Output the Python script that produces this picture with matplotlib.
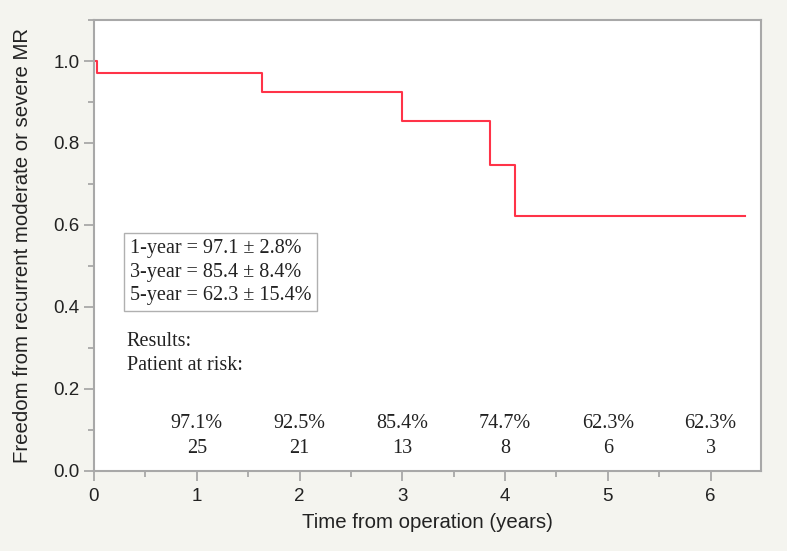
import matplotlib.pyplot as plt
from matplotlib.ticker import MultipleLocator

# Kaplan-Meier steps (time in years, survival after the step)
times = [0.0, 0.03, 1.63, 3.0, 3.85, 4.10, 6.33]
surv = [1.0, 0.971, 0.925, 0.854, 0.747, 0.623, 0.623]

years = [1, 2, 3, 4, 5, 6]
results = ["97.1%", "92.5%", "85.4%", "74.7%", "62.3%", "62.3%"]
at_risk = ["25", "21", "13", "8", "6", "3"]

summary = ["1-year = 97.1 ± 2.8%", "3-year = 85.4 ± 8.4%", "5-year = 62.3 ± 15.4%"]

bg = "#f4f4ef"
grey = "#a8a8a8"
serif = "Liberation Serif"

plt.rcParams["font.family"] = "Liberation Sans"

fig = plt.figure(figsize=(7.87, 5.51), dpi=100, facecolor=bg)
ax = fig.add_axes([0.1194, 0.1452, 0.8476, 0.8185])
ax.set_facecolor("white")

ax.step(times, surv, where="post", color="#ff3348", lw=1.5)

ax.set_xlim(0, 6.49)
ax.set_ylim(0, 1.1)
ax.set_xticks(range(0, 7))
ax.set_yticks([0.0, 0.2, 0.4, 0.6, 0.8, 1.0])
ax.set_yticklabels(["0.0", "0.2", "0.4", "0.6", "0.8", "1.0"])
ax.xaxis.set_minor_locator(MultipleLocator(0.5))
ax.yaxis.set_minor_locator(MultipleLocator(0.1))

for s in ax.spines.values():
    s.set_color(grey)
    s.set_linewidth(1.5)
ax.tick_params(which="major", length=7, width=1.3, color=grey, labelsize=13.5, labelcolor="#222222")
ax.tick_params(axis="x", which="major", pad=5)
ax.tick_params(which="minor", length=4, width=1.3, color=grey)

ax.set_xlabel("Time from operation (years)", fontsize=14.7, color="#222222", labelpad=6)
ax.set_ylabel("Freedom from recurrent moderate or severe MR", fontsize=14.7, color="#222222", labelpad=15)

# summary box
ax.text(0.35, 0.485, "\n".join(summary), family=serif, fontsize=14.5, linespacing=1.3,
        va="center", ha="left", color="#222222",
        bbox=dict(boxstyle="square,pad=0.3", fc="white", ec="#b0b0b0", lw=1))

ax.text(0.32, 0.315, "Results:", family=serif, fontsize=14.5, va="center", color="#222222")
ax.text(0.32, 0.257, "Patient at risk:", family=serif, fontsize=14.5, va="center", color="#222222")

for x, r, n in zip(years, results, at_risk):
    ax.text(x, 0.115, r, family=serif, fontsize=14.5, ha="center", va="center", color="#222222")
    ax.text(x, 0.056, n, family=serif, fontsize=14.5, ha="center", va="center", color="#222222")

fig.savefig("out.png", dpi=100, facecolor=bg)
